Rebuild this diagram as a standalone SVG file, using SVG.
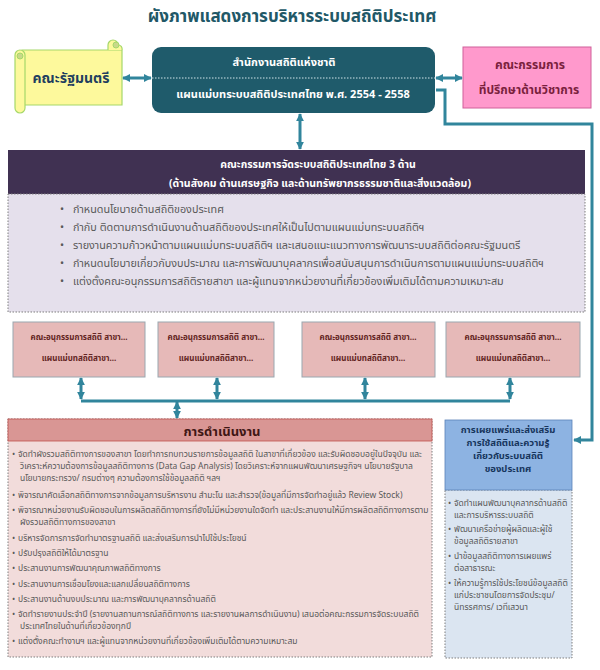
<svg xmlns="http://www.w3.org/2000/svg" width="600" height="670" viewBox="0 0 600 670">
<defs>
<style>
text{font-family:"Noto Sans Thai","Tahoma","Noto Sans","DejaVu Sans",sans-serif}
.b{font-weight:bold}
.w{fill:#ffffff}
.con{stroke:#31859c;stroke-width:3;fill:none}
.sub{fill:#e6b9b8;stroke:#9aa7b0;stroke-width:1}
.subt{font-size:8px;font-weight:bold;fill:#632523}
.li{font-size:10.8px;fill:#595959}
.op{font-size:8.5px;fill:#595959}
.rt{font-size:8.5px;fill:#595959}
.dot{stroke:#7f7f7f;stroke-width:1;stroke-dasharray:1.5 1.5}
</style>
<marker id="ah" viewBox="0 0 10 10" refX="9" refY="5" markerWidth="8" markerHeight="8" markerUnits="userSpaceOnUse" orient="auto-start-reverse">
<path d="M0,0 L10,5 L0,10 z" fill="#31859c"/>
</marker>
</defs>
<rect width="600" height="670" fill="#ffffff"/>
<text id="title" x="292" y="22" text-anchor="middle" class="b" font-size="17" fill="#215867">ผังภาพแสดงการบริหารระบบสถิติประเทศ</text>

<g id="cabinet">
<path d="M22,50 H122 V105 H22 Z" fill="#fdf99c" stroke="#a6d86a" stroke-width="1.2"/>
<path d="M108,50 V45 a5,5 0 0 1 10,0 a4,4 0 0 1 4,5" fill="#fdf99c" stroke="#a6d86a" stroke-width="1.2"/>
<circle cx="116" cy="45" r="3" fill="#c9d98a" stroke="#a6d86a"/>
<rect x="15" y="50" width="10" height="63" rx="5" fill="#fdf99c" stroke="#a6d86a" stroke-width="1.2"/>
<circle cx="20" cy="56" r="3" fill="#c9d98a" stroke="#a6d86a"/>
<text x="71" y="83" text-anchor="middle" class="b" font-size="14" fill="#1f3f5f">คณะรัฐมนตรี</text>
</g>

<g id="nso">
<rect x="152" y="47" width="283" height="66" rx="9" fill="#1f5b6b"/>
<line x1="152" y1="78" x2="435" y2="78" stroke="#cfe3e8" stroke-width="1" stroke-dasharray="1.5 1.5"/>
<text x="284" y="66" text-anchor="middle" class="b w" font-size="11">สำนักงานสถิติแห่งชาติ</text>
<text x="293" y="98" text-anchor="middle" class="b w" font-size="11">แผนแม่บทระบบสถิติประเทศไทย พ.ศ. 2554 - 2558</text>
</g>

<g id="advisory">
<rect x="463" y="47" width="128" height="61" fill="#ff99cc" stroke="#d0609a" stroke-width="1"/>
<text x="530" y="69" text-anchor="middle" class="b" font-size="12" fill="#7a1f3d">คณะกรรมการ</text>
<text x="529" y="94" text-anchor="middle" class="b" font-size="12" fill="#7a1f3d">ที่ปรึกษาด้านวิชาการ</text>
</g>

<g id="committee">
<rect x="8" y="150" width="577" height="44" fill="#403152"/>
<text x="318" y="168" text-anchor="middle" class="b w" font-size="10.5">คณะกรรมการจัดระบบสถิติประเทศไทย 3 ด้าน</text>
<text x="320" y="187" text-anchor="middle" class="b w" font-size="10.5">(ด้านสังคม ด้านเศรษฐกิจ และด้านทรัพยากรธรรมชาติและสิ่งแวดล้อม)</text>
<rect x="8" y="194" width="577" height="118" fill="#e5e0ec" class="dot"/>
<g class="li">
<text x="60" y="213">•</text><text x="73" y="213">กำหนดนโยบายด้านสถิติของประเทศ</text>
<text x="60" y="231">•</text><text x="73" y="231">กำกับ ติดตามการดำเนินงานด้านสถิติของประเทศให้เป็นไปตามแผนแม่บทระบบสถิติฯ</text>
<text x="60" y="249">•</text><text x="73" y="249">รายงานความก้าวหน้าตามแผนแม่บทระบบสถิติฯ และเสนอแนะแนวทางการพัฒนาระบบสถิติต่อคณะรัฐมนตรี</text>
<text x="60" y="267">•</text><text x="73" y="267">กำหนดนโยบายเกี่ยวกับงบประมาณ และการพัฒนาบุคลากรเพื่อสนับสนุนการดำเนินการตามแผนแม่บทระบบสถิติฯ</text>
<text x="60" y="285">•</text><text x="73" y="285">แต่งตั้งคณะอนุกรรมการสถิติรายสาขา และผู้แทนจากหน่วยงานที่เกี่ยวข้องเพิ่มเติมได้ตามความเหมาะสม</text>
</g>
</g>

<g id="sub1">
<rect x="13" y="322" width="132" height="55" class="sub"/>
<text x="79" y="340" text-anchor="middle" class="subt">คณะอนุกรรมการสถิติ สาขา...</text>
<text x="79" y="361" text-anchor="middle" class="subt">แผนแม่บทสถิติสาขา...</text>
</g>
<g id="sub2">
<rect x="158" y="322" width="116" height="55" class="sub"/>
<text x="216" y="340" text-anchor="middle" class="subt">คณะอนุกรรมการสถิติ สาขา...</text>
<text x="216" y="361" text-anchor="middle" class="subt">แผนแม่บทสถิติสาขา...</text>
</g>
<g id="sub3">
<rect x="302" y="322" width="133" height="55" class="sub"/>
<text x="368" y="340" text-anchor="middle" class="subt">คณะอนุกรรมการสถิติ สาขา...</text>
<text x="368" y="361" text-anchor="middle" class="subt">แผนแม่บทสถิติสาขา...</text>
</g>
<g id="sub4">
<rect x="446" y="322" width="134" height="55" class="sub"/>
<text x="513" y="340" text-anchor="middle" class="subt">คณะอนุกรรมการสถิติ สาขา...</text>
<text x="513" y="361" text-anchor="middle" class="subt">แผนแม่บทสถิติสาขา...</text>
</g>

<g id="operations">
<rect x="8" y="419" width="424" height="238" fill="#f2dcdb" class="dot"/>
<rect x="8" y="419" width="424" height="22" fill="#d99694" stroke="#c0504d" stroke-width="0.8"/>
<text x="222" y="436" text-anchor="middle" class="b" font-size="13" fill="#3f1614">การดำเนินงาน</text>
<g class="op">
<text x="12" y="457">•</text><text x="18" y="457">จัดทำผังรวมสถิติทางการของสาขา  โดยทำการทบทวนรายการข้อมูลสถิติ ในสาขาที่เกี่ยวข้อง และรับผิดชอบอยู่ในปัจจุบัน และ</text>
<text x="20" y="469">วิเคราะห์ความต้องการข้อมูลสถิติทางการ (Data Gap Analysis)  โดยวิเคราะห์จากแผนพัฒนาเศรษฐกิจฯ นโยบายรัฐบาล</text>
<text x="20" y="481">นโยบายกระทรวง/ กรมต่างๆ ความต้องการใช้ข้อมูลสถิติ ฯลฯ</text>
<text x="12" y="498">•</text><text x="18" y="498">พิจารณาคัดเลือกสถิติทางการจากข้อมูลการบริหารงาน สำมะโน และสำรวจ(ข้อมูลที่มีการจัดทำอยู่แล้ว Review Stock)</text>
<text x="12" y="513">•</text><text x="18" y="513">พิจารณาหน่วยงานรับผิดชอบในการผลิตสถิติทางการที่ยังไม่มีหน่วยงานใดจัดทำ และประสานงานให้มีการผลิตสถิติทางการตาม</text>
<text x="20" y="525">ผังรวมสถิติทางการของสาขา</text>
<text x="12" y="541">•</text><text x="18" y="541">บริหารจัดการการจัดทำมาตรฐานสถิติ และส่งเสริมการนำไปใช้ประโยชน์</text>
<text x="12" y="556">•</text><text x="18" y="556">ปรับปรุงสถิติให้ได้มาตรฐาน</text>
<text x="12" y="571">•</text><text x="18" y="571">ประสานงานการพัฒนาคุณภาพสถิติทางการ</text>
<text x="12" y="587">•</text><text x="18" y="587">ประสานงานการเชื่อมโยงและแลกเปลี่ยนสถิติทางการ</text>
<text x="12" y="602">•</text><text x="18" y="602">ประสานงานด้านงบประมาณ และการพัฒนาบุคลากรด้านสถิติ</text>
<text x="12" y="617">•</text><text x="18" y="617">จัดทำรายงานประจำปี (รายงานสถานการณ์สถิติทางการ และรายงานผลการดำเนินงาน) เสนอต่อคณะกรรมการจัดระบบสถิติ</text>
<text x="20" y="629">ประเทศไทยในด้านที่เกี่ยวข้องทุกปี</text>
<text x="12" y="644">•</text><text x="18" y="644">แต่งตั้งคณะทำงานฯ และผู้แทนจากหน่วยงานที่เกี่ยวข้องเพิ่มเติมได้ตามความเหมาะสม</text>
</g>
</g>

<g id="dissemination">
<rect x="445" y="490" width="127" height="168" fill="#dbe5f1" class="dot"/>
<rect x="445" y="420" width="127" height="70" fill="#8db3e2" stroke="#5a82b8" stroke-width="0.8"/>
<g class="b" font-size="9.5" fill="#17365d" text-anchor="middle">
<text x="508" y="433">การเผยแพร่และส่งเสริม</text>
<text x="508" y="446">การใช้สถิติและความรู้</text>
<text x="508" y="459">เกี่ยวกับระบบสถิติ</text>
<text x="508" y="472">ของประเทศ</text>
</g>
<g class="rt">
<text x="448" y="506">•</text><text x="454" y="506">จัดทำแผนพัฒนาบุคลากรด้านสถิติ</text>
<text x="454" y="518">และการบริหารระบบสถิติ</text>
<text x="448" y="532">•</text><text x="454" y="532">พัฒนาเครือข่ายผู้ผลิตและผู้ใช้</text>
<text x="454" y="544">ข้อมูลสถิติรายสาขา</text>
<text x="448" y="559">•</text><text x="454" y="559">นำข้อมูลสถิติทางการเผยแพร่</text>
<text x="454" y="571">ต่อสาธารณะ</text>
<text x="448" y="586">•</text><text x="454" y="586">ให้ความรู้การใช้ประโยชน์ข้อมูลสถิติ</text>
<text x="454" y="598">แก่ประชาชนโดยการจัดประชุม/</text>
<text x="454" y="610">นิทรรศการ/ เวทีเสวนา</text>
</g>
</g>

<g id="connectors">
<line x1="123" y1="78" x2="151" y2="78" class="con" marker-start="url(#ah)" marker-end="url(#ah)"/>
<line x1="436" y1="78" x2="462" y2="78" class="con" marker-start="url(#ah)" marker-end="url(#ah)"/>
<line x1="300" y1="114" x2="300" y2="149" class="con" marker-start="url(#ah)" marker-end="url(#ah)"/>
<path d="M436,90 H445 V124 H592 V440 H574" class="con" marker-end="url(#ah)"/>
<line x1="81" y1="378" x2="81" y2="399" class="con" marker-start="url(#ah)" marker-end="url(#ah)"/>
<line x1="217" y1="378" x2="217" y2="399" class="con" marker-start="url(#ah)" marker-end="url(#ah)"/>
<line x1="365" y1="378" x2="365" y2="399" class="con" marker-start="url(#ah)" marker-end="url(#ah)"/>
<line x1="510" y1="378" x2="510" y2="399" class="con" marker-start="url(#ah)" marker-end="url(#ah)"/>
<path d="M81,401 H510" class="con"/>
<line x1="177" y1="402" x2="177" y2="418" class="con" marker-start="url(#ah)" marker-end="url(#ah)"/>
</g>
</svg>
